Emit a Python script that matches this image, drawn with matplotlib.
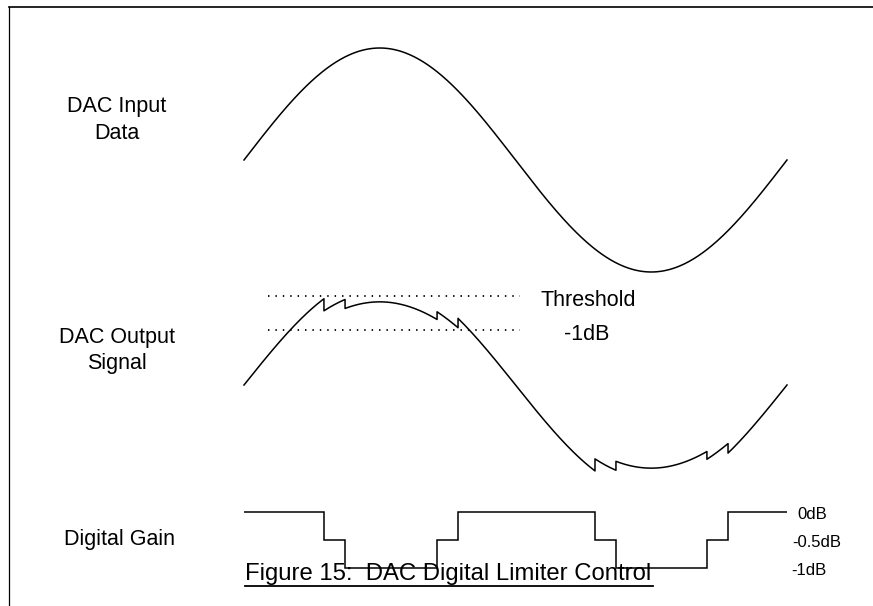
import numpy as np
import matplotlib
from matplotlib import pyplot as plt

matplotlib.use("Agg")

plt.rcParams["font.family"] = ["Liberation Sans", "DejaVu Sans"]

W, H = 873, 606

# sine in degrees, one full period
t_start, t_end = 0, 360
# gain change points (degrees) and the gain in each interval
switch_deg = [53.0, 67.0, 128.0, 141.9, 232.7, 246.6, 306.9, 320.9]
gain_db = [0, -0.5, -1, -0.5, 0, -0.5, -1, -0.5, 0]
gain_lin = [1.0, 0.86, 0.77, 0.86, 1.0, 0.86, 0.77, 0.86, 1.0]
threshold = 0.824
thr_1db = 0.509
thr_span = [15.9, 183.0]
db_labels = ["0dB", "-0.5dB", "-1dB"]

fig = plt.figure(figsize=(W / 100, H / 100), dpi=100)

bg = fig.add_axes([0, 0, 1, 1])
bg.set_xlim(0, W)
bg.set_ylim(H, 0)
bg.axis("off")


def panel(x0, x1, ytop, ybot, ylim):
    ax = fig.add_axes([x0 / W, 1 - ybot / H, (x1 - x0) / W, (ybot - ytop) / H])
    ax.set_xlim(0, 360)
    ax.set_ylim(*ylim)
    ax.axis("off")
    ax.patch.set_alpha(0)
    return ax


lw = 1.1

# frame
bg.plot([9, W], [7, 7], color="black", lw=1.2)
bg.plot([9, 9], [7, H], color="black", lw=0.9)

# DAC input
ax_in = panel(244, 787, 48, 272, (-1, 1))
t = np.linspace(t_start, t_end, 600)
ax_in.plot(t, np.sin(np.radians(t)), color="black", lw=lw, clip_on=False)

# DAC output with gain steps
ax_out = panel(244, 787, 277, 493, (-1, 1))
edges = [t_start] + switch_deg + [t_end]
ts, ys = [], []
for i, g in enumerate(gain_lin):
    seg = np.linspace(edges[i], edges[i + 1], 80)
    ts.append(seg)
    ys.append(g * np.sin(np.radians(seg)))
ax_out.plot(np.concatenate(ts), np.concatenate(ys), color="black", lw=lw,
            clip_on=False)
for level in (threshold, thr_1db):
    ax_out.plot(thr_span, [level, level], color="black", lw=1.3,
                linestyle=(0, (0.8, 3.3)), clip_on=False)

# digital gain
ax_g = panel(244, 787, 512, 568, (-1, 0))
ax_g.stairs(gain_db, edges, baseline=None, color="black", lw=lw, clip_on=False)

# labels
fs = 15.5
bg.text(117, 112, "DAC Input", ha="center", va="baseline", fontsize=fs)
bg.text(117, 139, "Data", ha="center", va="baseline", fontsize=fs)
bg.text(117, 342.5, "DAC Output", ha="center", va="baseline", fontsize=fs)
bg.text(117, 369.5, "Signal", ha="center", va="baseline", fontsize=fs)
bg.text(119, 545, "Digital Gain", ha="center", va="baseline", fontsize=fs)
bg.text(588, 306.5, "Threshold", ha="center", va="baseline", fontsize=fs)
bg.text(587, 340.5, "-1dB", ha="center", va="baseline", fontsize=fs)

for lab, x, y in zip(db_labels, [797, 792, 791], [519, 547, 575]):
    bg.text(x, y, lab, ha="left", va="baseline", fontsize=12)

bg.text(245, 580, "Figure 15:  DAC Digital Limiter Control", ha="left",
        va="baseline", fontsize=17.2)
bg.plot([245, 653], [586, 586], color="black", lw=1.3)

fig.savefig("out.png", dpi=100)
